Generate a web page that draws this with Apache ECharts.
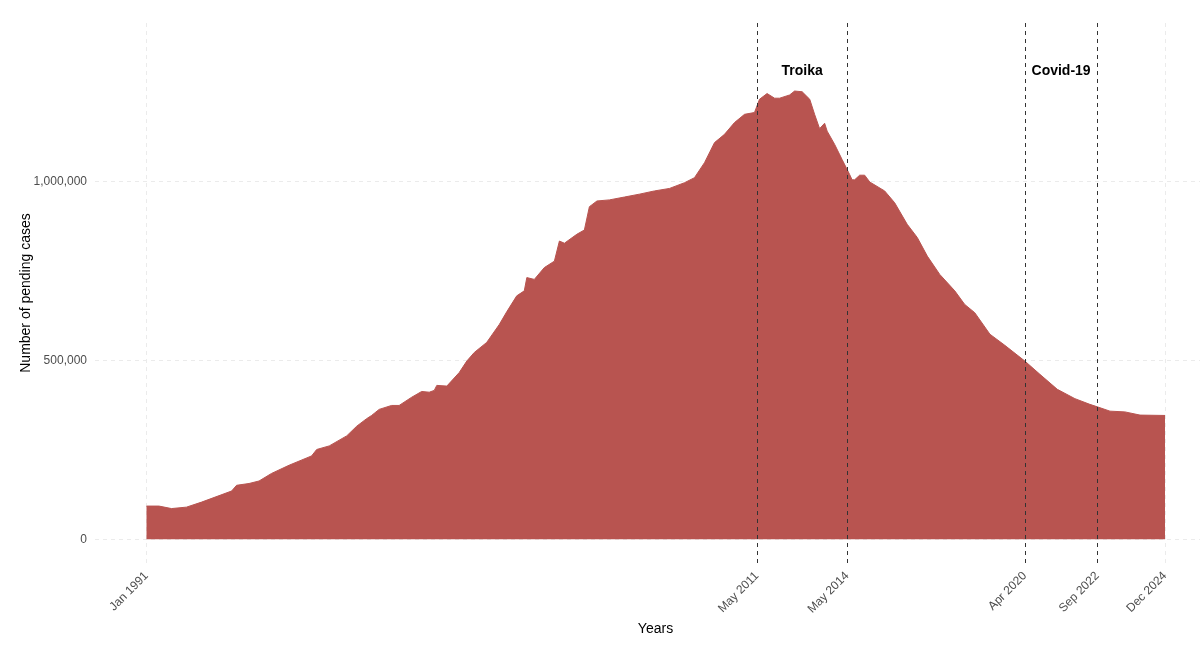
<!DOCTYPE html>
<html>
<head>
<meta charset="utf-8">
<script src="https://cdn.jsdelivr.net/npm/echarts@6/dist/echarts.min.js"></script>
<style>
  html, body { margin: 0; padding: 0; background: #fff; }
  #chart { width: 1200px; height: 648px; }
</style>
</head>
<body>
<div id="chart"></div>
<script>
// pending cases (month, value)
var months = [
  '1991-01','1991-06','1991-11','1992-05','1992-11','1993-11','1994-01','1994-06','1994-10','1995-03',
  '1995-10','1996-07','1996-09','1997-02','1997-09','1998-01','1998-05','1998-07','1998-10','1999-03',
  '1999-06','1999-11','2000-03','2000-06','2000-08','2000-09','2001-01','2001-06','2001-09','2001-12',
  '2002-05','2002-10','2003-01','2003-05','2003-08','2003-09','2003-12','2004-04','2004-08','2004-10',
  '2004-12','2005-05','2005-08','2005-10','2006-01','2006-06','2006-12','2007-06','2007-12','2008-06',
  '2008-12','2009-04','2009-08','2009-12','2010-04','2010-08','2010-12','2011-04','2011-06','2011-09',
  '2011-12','2012-02','2012-06','2012-08','2012-11','2013-02','2013-04','2013-06','2013-08','2013-09',
  '2013-12','2014-03','2014-06','2014-07','2014-08','2014-10','2014-12','2015-02','2015-08','2015-12',
  '2016-05','2016-09','2017-01','2017-06','2017-12','2018-04','2018-08','2019-02','2019-08','2020-04',
  '2020-10','2021-05','2021-12','2022-06','2022-09','2023-02','2023-08','2024-02','2024-12'
];
var pending = [
  93000,93000,86000,90000,104000,135000,151000,156000,163000,184000,
  207000,233000,251000,261000,289000,316000,337000,346000,363000,374000,
  374000,397000,413000,411000,416000,430000,428000,466000,498000,522000,
  550000,600000,636000,680000,694000,731000,726000,759000,777000,833000,
  827000,852000,864000,929000,945000,948000,956000,964000,973000,980000,
  996000,1010000,1052000,1108000,1131000,1164000,1187000,1192000,1229000,1245000,
  1232000,1232000,1241000,1252000,1250000,1229000,1187000,1147000,1162000,1140000,
  1103000,1061000,1019000,1004000,1004000,1017000,1017000,998000,973000,940000,
  880000,843000,791000,740000,694000,656000,633000,573000,542000,498000,
  461000,419000,393000,377000,370000,358000,356000,347000,346000
];

var tickMonths = ['1991-01','2011-05','2014-05','2020-04','2022-09','2024-12'];
var tickLabels = ['Jan 1991','May 2011','May 2014','Apr 2020','Sep 2022','Dec 2024'];
var eventLines = ['2011-05','2014-05','2020-04','2022-09'];
var eventNames = ['Troika','Covid-19'];
var eventNameMonths = ['2012-11','2021-06-16'];
var eventNameY = 1308000;
var yTicks = [0, 500000, 1000000];

function ts(s){
  var p = s.split('-');
  return Date.UTC(+p[0], +p[1] - 1, p[2] ? +p[2] : 1);
}

var seriesData = months.map(function(m, i){ return [ts(m), pending[i]]; });
var t0 = ts(months[0]);
var t1 = ts(months[months.length - 1]);
// panel runs a bit past the data on both sides (right side is cut by the frame)
var span = t1 - t0;
var xMin = t0 - span * 51.5 / 1018.5;
var xMax = t1 + span * 35 / 1018.5;

var labelMap = {};
tickMonths.forEach(function(m, i){ labelMap[ts(m)] = tickLabels[i]; });

var chart = echarts.init(document.getElementById('chart'));
chart.setOption({
  animation: false,
  backgroundColor: '#ffffff',
  textStyle: { fontFamily: 'Liberation Sans, Arial, sans-serif' },
  grid: { left: 95, right: 0, top: 23, bottom: 85 },
  xAxis: {
    type: 'value',
    min: xMin,
    max: xMax,
    name: 'Years',
    nameLocation: 'middle',
    nameGap: 56,
    nameTextStyle: { color: '#000', fontSize: 14, padding: [0, 0, 0, 16] },
    axisLine: { show: false },
    axisTick: { show: false, customValues: tickMonths.map(ts) },
    axisLabel: {
      customValues: tickMonths.map(ts),
      rotate: 45,
      margin: 11,
      color: '#4D4D4D',
      fontSize: 12,
      formatter: function(v){ return labelMap[v] || ''; }
    },
    splitLine: { show: true, lineStyle: { color: '#EBEBEB', type: [4, 4], width: 1 } }
  },
  yAxis: {
    type: 'value',
    min: -66000,
    max: 1442000,
    name: 'Number of pending cases',
    nameLocation: 'middle',
    nameGap: 62,
    nameMoveOverlap: false,
    nameTextStyle: { color: '#000', fontSize: 14, padding: [0, 0, 0, 0] },
    axisLine: { show: false },
    axisTick: { show: false, customValues: yTicks },
    axisLabel: {
      customValues: yTicks,
      margin: 8,
      color: '#4D4D4D',
      fontSize: 12,
      formatter: function(v){ return v.toLocaleString('en-US'); }
    },
    splitLine: { show: true, lineStyle: { color: '#EBEBEB', type: [4, 4], width: 1 } }
  },
  series: [{
    type: 'line',
    data: seriesData,
    symbol: 'none',
    lineStyle: { color: '#B85450', width: 1 },
    areaStyle: { color: '#B85450', opacity: 1, origin: 0 },
    markLine: {
      silent: true,
      symbol: 'none',
      label: { show: false },
      lineStyle: { color: '#333333', type: [4, 4], width: 1 },
      data: eventLines.map(function(m){ return { xAxis: ts(m) }; })
    },
    markPoint: {
      silent: true,
      symbol: 'circle',
      symbolSize: 0,
      label: {
        show: true,
        position: 'inside',
        color: '#000',
        fontWeight: 'bold',
        fontSize: 14,
        formatter: function(p){ return p.name; }
      },
      data: eventNames.map(function(n, i){
        return { name: n, coord: [ts(eventNameMonths[i]), eventNameY] };
      })
    },
    z: 2
  }]
});
</script>
</body>
</html>
